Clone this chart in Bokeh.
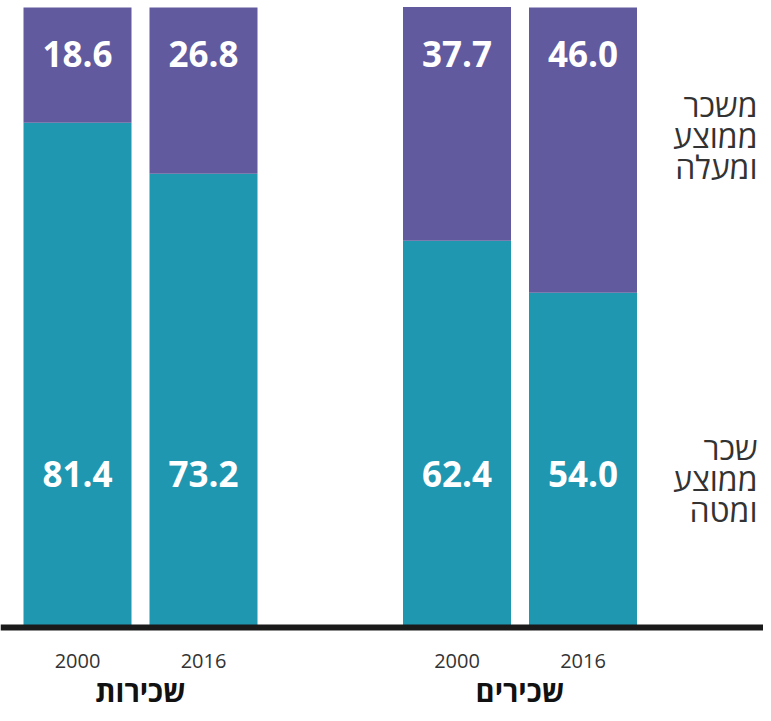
from bokeh.plotting import figure
from bokeh.models import ColumnDataSource, Range1d, Span
from bokeh.core.properties import value
from bokeh.embed import file_html
from bokeh.resources import INLINE

# ---- data ----
groups = ["שכירות", "שכירים"]
years = ["2000", "2016"]
bar_group = ["שכירות", "שכירות", "שכירים", "שכירים"]
bar_year = ["2000", "2016", "2000", "2016"]
below_avg = [81.4, 73.2, 62.4, 54.0]
above_avg = [18.6, 26.8, 37.7, 46.0]
series_below_name = "שכר\nממוצע\nומטה"
series_above_name = "משכר\nממוצע\nומעלה"

# ---- style / layout ----
TEAL = "#1f97b1"
PURPLE = "#625a9e"
DARK = "#333333"
W, H = 763, 713
BAR_W = 0.2846
YEAR_SHIFT = {"2000": -0.166, "2016": 0.166}
X_START, X_END = -0.3689, 1.6416
Y_START, Y_END = -13.87, 101.13
LOW_LABEL_Y, HIGH_LABEL_Y = 24.7, 92.5
YEAR_LABEL_Y, GROUP_LABEL_Y = -5.4, -10.15
LEGEND_X = 1.626
LEGEND_LOW_Y, LEGEND_HIGH_Y = 24.0, 79.4

gidx = [groups.index(g) for g in bar_group]
xpos = [g + YEAR_SHIFT[y] for g, y in zip(gidx, bar_year)]

src = ColumnDataSource(dict(
    x=xpos,
    below=below_avg,
    above=above_avg,
    below_txt=[f"{v:.1f}" for v in below_avg],
    above_txt=[f"{v:.1f}" for v in above_avg],
    year=bar_year,
    ly_low=[LOW_LABEL_Y] * len(xpos),
    ly_high=[HIGH_LABEL_Y] * len(xpos),
    ly_year=[YEAR_LABEL_Y] * len(xpos),
))
gsrc = ColumnDataSource(dict(
    x=list(range(len(groups))),
    name=groups,
    y=[GROUP_LABEL_Y] * len(groups),
))

p = figure(width=W, height=H, output_backend="svg", toolbar_location=None,
           x_range=Range1d(X_START, X_END), y_range=Range1d(Y_START, Y_END),
           min_border=0, x_axis_location=None, y_axis_location=None)
p.outline_line_color = None
p.grid.visible = False
p.background_fill_color = "white"
p.border_fill_color = "white"

p.vbar_stack(["below", "above"], x="x", width=BAR_W, color=[TEAL, PURPLE],
             line_color=None, source=src)

for ycol, tcol in (("ly_low", "below_txt"), ("ly_high", "above_txt")):
    p.text(x="x", y=ycol, text=tcol, source=src, text_align="center",
           text_baseline="middle", text_color="white",
           text_font=value("Open Sans"), text_font_style="bold",
           text_font_size="35px")

# year labels under each bar
p.text(x="x", y="ly_year", text="year", source=src, text_align="center",
       text_baseline="middle", text_color=DARK,
       text_font=value("Open Sans"), text_font_size="20px")

# group labels
p.text(x="x", y="y", text="name", source=gsrc, text_align="center",
       text_baseline="middle", text_color="#111111",
       text_font=value("Open Sans"), text_font_style="bold",
       text_font_size="29px")

# series names on the right
p.text(x=[LEGEND_X, LEGEND_X], y=[LEGEND_LOW_Y, LEGEND_HIGH_Y],
       text=[series_below_name, series_above_name], text_align="right",
       text_baseline="middle", text_color=DARK, text_line_height=0.72,
       text_font=value("Open Sans"), text_font_size="32px")

p.add_layout(Span(location=0, dimension="width", line_color="#1a1a1a",
                  line_width=6))

open("out.html", "w").write(file_html(p, INLINE))
